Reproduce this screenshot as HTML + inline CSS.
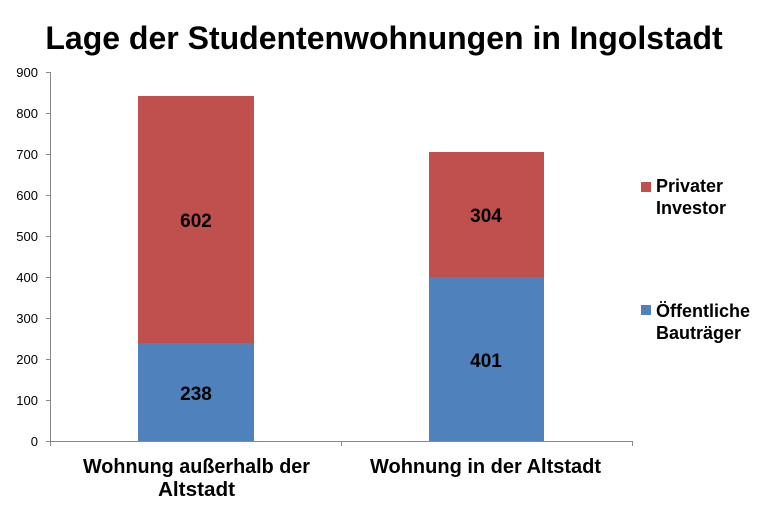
<!DOCTYPE html>
<html><head><style>body{margin:0;background:#fff}svg{display:block}</style></head><body>
<svg width="768" height="512" xmlns="http://www.w3.org/2000/svg" font-family="Liberation Sans, Arial, sans-serif">
<text x="384" y="49" text-anchor="middle" font-size="32" font-weight="bold">Lage der Studentenwohnungen in Ingolstadt</text>
<g stroke="#888" stroke-width="1">
<line x1="50.5" y1="72" x2="50.5" y2="441"/>
<line x1="46" y1="441.5" x2="633" y2="441.5"/>
<line x1="46" y1="72.5" x2="50" y2="72.5"/><line x1="46" y1="113.5" x2="50" y2="113.5"/><line x1="46" y1="154.5" x2="50" y2="154.5"/><line x1="46" y1="195.5" x2="50" y2="195.5"/><line x1="46" y1="236.5" x2="50" y2="236.5"/><line x1="46" y1="277.5" x2="50" y2="277.5"/><line x1="46" y1="318.5" x2="50" y2="318.5"/><line x1="46" y1="359.5" x2="50" y2="359.5"/><line x1="46" y1="400.5" x2="50" y2="400.5"/>
<line x1="50.5" y1="441" x2="50.5" y2="446"/><line x1="341.5" y1="441" x2="341.5" y2="446"/><line x1="632.5" y1="441" x2="632.5" y2="446"/>
</g>
<g font-size="13" text-anchor="end" fill="#000">
<text x="38" y="77">900</text><text x="38" y="118">800</text><text x="38" y="159">700</text><text x="38" y="200">600</text><text x="38" y="241">500</text><text x="38" y="282">400</text><text x="38" y="323">300</text><text x="38" y="364">200</text><text x="38" y="405">100</text><text x="38" y="446">0</text>
</g>
<rect x="138" y="96" width="116" height="247" fill="#c0504d"/>
<rect x="138" y="343" width="116" height="98" fill="#4f81bd"/>
<rect x="429" y="152" width="115" height="125" fill="#c0504d"/>
<rect x="429" y="277" width="115" height="164" fill="#4f81bd"/>
<g font-size="19" font-weight="bold" text-anchor="middle">
<text x="196" y="227">602</text><text x="196" y="400">238</text>
<text x="486" y="222">304</text><text x="486" y="367">401</text>
</g>
<g font-size="20" font-weight="bold">
<text x="83" y="473" textLength="227" lengthAdjust="spacingAndGlyphs">Wohnung außerhalb der</text>
<text x="158" y="496" textLength="77" lengthAdjust="spacingAndGlyphs">Altstadt</text>
<text x="370" y="473" textLength="231" lengthAdjust="spacingAndGlyphs">Wohnung in der Altstadt</text>
</g>
<rect x="641" y="182" width="10" height="10" fill="#c0504d"/>
<rect x="641" y="305" width="10" height="10" fill="#4f81bd"/>
<g font-size="18" font-weight="bold">
<text x="656" y="192">Privater</text><text x="656" y="214">Investor</text>
<text x="656" y="317">Öffentliche</text><text x="656" y="339">Bauträger</text>
</g>
</svg>
</body></html>
